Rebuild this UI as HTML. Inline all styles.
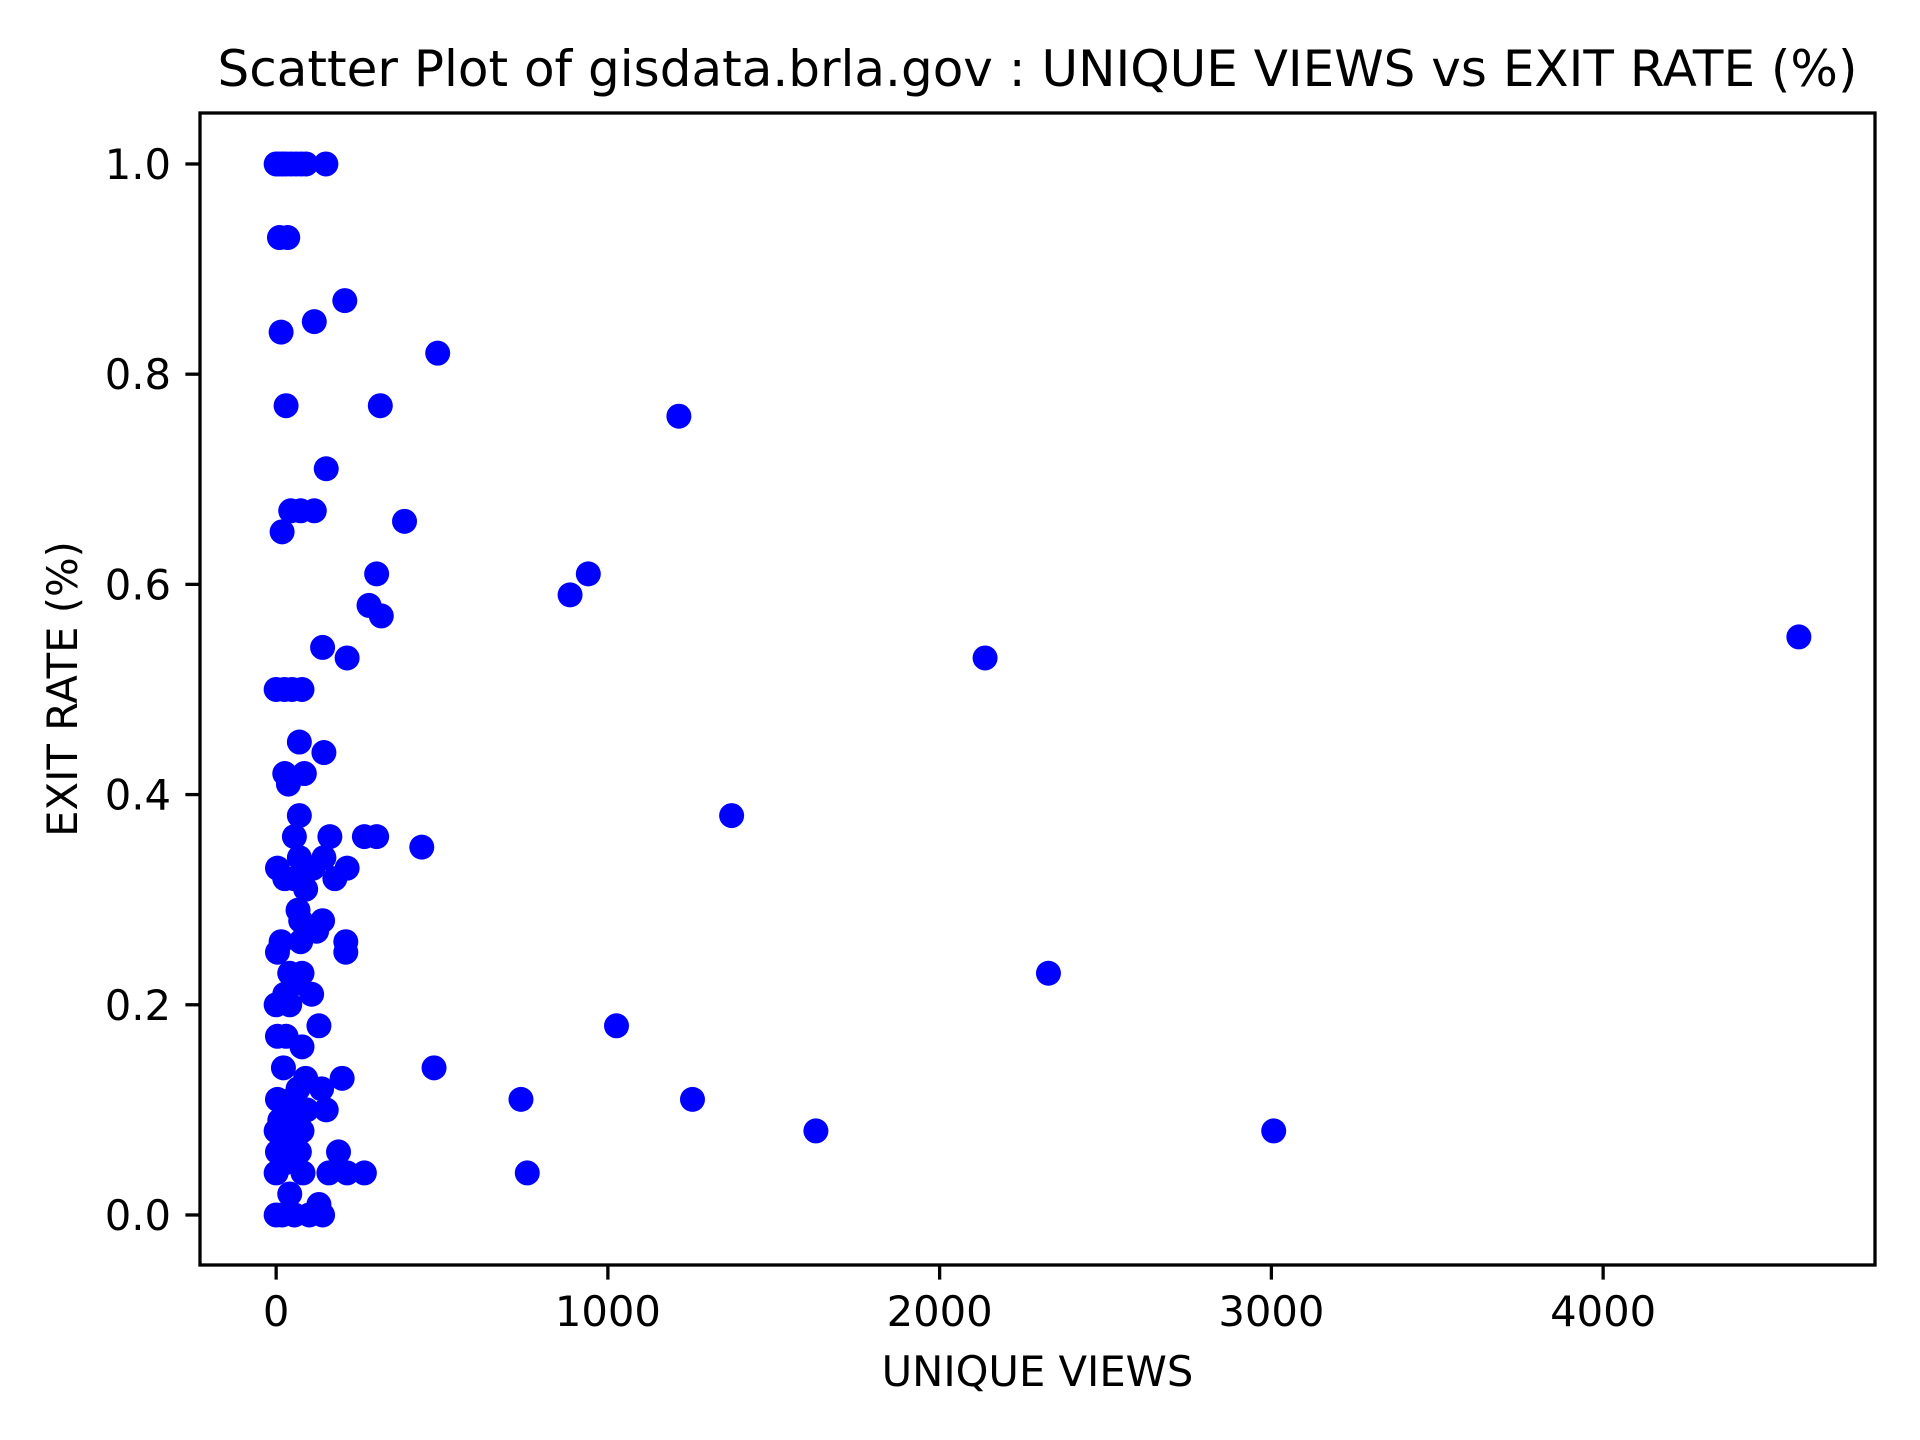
<!DOCTYPE html>
<html><head><meta charset="utf-8"><style>
html,body{margin:0;padding:0;background:#fff;}
svg{display:block;font-family:"DejaVu Sans","Liberation Sans",sans-serif;}
</style></head>
<body>
<svg id="chart" width="1920" height="1440" viewBox="0 0 1920 1440" xmlns="http://www.w3.org/2000/svg">
<rect x="0" y="0" width="1920" height="1440" fill="#fff"/>
<text x="1037.5" y="86" font-size="50" text-anchor="middle">Scatter Plot of gisdata.brla.gov : UNIQUE VIEWS vs EXIT RATE (%)</text>
<g id="points"></g>
<g id="axes"></g>
<text x="1037.5" y="1386" font-size="41.7" text-anchor="middle">UNIQUE VIEWS</text>
<text x="0" y="0" font-size="41.7" text-anchor="middle" transform="translate(77,689) rotate(-90)">EXIT RATE (%)</text>
</svg>
<script>
const xValues = [0,10,20,30,45,60,75,90,150, 10,35, 207, 115, 15, 487, 30,314, 1214, 151, 44,74,115, 387, 18, 303,941, 886, 280, 317, 4590, 140, 214,2137, 0,25,48,78, 70, 144, 26,85, 37, 70,1373, 55,162,266,303, 439, 70,144, 4,111,214, 26,55,177, 89, 66, 74,140, 122, 15,74,210, 4,210, 41,78,2328, 55, 107,26, 0,41, 129,1026, 4,30, 78, 22,476, 89,199, 66,137, 4,48,738,1255, 26,92,151, 11,55, 0,78,1627,3007, 37, 4,70,188, 30, 0,81,159,214,266,757, 41, 129, 0,18,55,100,140];
const yValues = [1,1,1,1,1,1,1,1,1, 0.93,0.93, 0.87, 0.85, 0.84, 0.82, 0.77,0.77, 0.76, 0.71, 0.67,0.67,0.67, 0.66, 0.65, 0.61,0.61, 0.59, 0.58, 0.57, 0.55, 0.54, 0.53,0.53, 0.5,0.5,0.5,0.5, 0.45, 0.44, 0.42,0.42, 0.41, 0.38,0.38, 0.36,0.36,0.36,0.36, 0.35, 0.34,0.34, 0.33,0.33,0.33, 0.32,0.32,0.32, 0.31, 0.29, 0.28,0.28, 0.27, 0.26,0.26,0.26, 0.25,0.25, 0.23,0.23,0.23, 0.22, 0.21,0.21, 0.2,0.2, 0.18,0.18, 0.17,0.17, 0.16, 0.14,0.14, 0.13,0.13, 0.12,0.12, 0.11,0.11,0.11,0.11, 0.1,0.1,0.1, 0.09,0.09, 0.08,0.08,0.08,0.08, 0.07, 0.06,0.06,0.06, 0.05, 0.04,0.04,0.04,0.04,0.04,0.04, 0.02, 0.01, 0,0,0,0,0];
const xTicks = [0,1000,2000,3000,4000];
const xTickLabels = ["0","1000","2000","3000","4000"];
const yTicks = [0,0.2,0.4,0.6,0.8,1.0];
const yTickLabels = ["0.0","0.2","0.4","0.6","0.8","1.0"];

const L=200,R=1875,T=113,B=1265;
const xmin=-229.5,xmax=4819.5,ymin=-0.0476,ymax=1.0485;
function sx(v){return L+(v-xmin)/(xmax-xmin)*(R-L);}
function sy(v){return B-(v-ymin)/(ymax-ymin)*(B-T);}
const NS="http://www.w3.org/2000/svg";
const pg=document.getElementById('points');
for(let i=0;i<xValues.length;i++){
  const c=document.createElementNS(NS,'circle');
  c.setAttribute('cx',sx(xValues[i]));c.setAttribute('cy',sy(yValues[i]));
  c.setAttribute('r',12.5);c.setAttribute('fill','#0000ff');
  
  
  pg.appendChild(c);
}
const ag=document.getElementById('axes');
const frame=document.createElementNS(NS,'rect');
frame.setAttribute('x',L);frame.setAttribute('y',T);frame.setAttribute('width',R-L);frame.setAttribute('height',B-T);
frame.setAttribute('fill','none');frame.setAttribute('stroke','#000');frame.setAttribute('stroke-width',3.3);


ag.appendChild(frame);
xTicks.forEach((v,i)=>{
  const x=sx(v);
  const ln=document.createElementNS(NS,'line');
  ln.setAttribute('x1',x);ln.setAttribute('x2',x);ln.setAttribute('y1',B);ln.setAttribute('y2',B+14.6);
  ln.setAttribute('stroke','#000');ln.setAttribute('stroke-width',3.3);
  
  
  ag.appendChild(ln);
  const t=document.createElementNS(NS,'text');
  t.setAttribute('x',x);t.setAttribute('y',1326);t.setAttribute('font-size',41.7);t.setAttribute('text-anchor','middle');
  t.textContent=xTickLabels[i];
  
  
  ag.appendChild(t);
});
yTicks.forEach((v,i)=>{
  const y=sy(v);
  const ln=document.createElementNS(NS,'line');
  ln.setAttribute('x1',L-14.6);ln.setAttribute('x2',L);ln.setAttribute('y1',y);ln.setAttribute('y2',y);
  ln.setAttribute('stroke','#000');ln.setAttribute('stroke-width',3.3);
  
  
  ag.appendChild(ln);
  const t=document.createElementNS(NS,'text');
  t.setAttribute('x',L-29);t.setAttribute('y',y+15);t.setAttribute('font-size',41.7);t.setAttribute('text-anchor','end');
  t.textContent=yTickLabels[i];
  
  
  ag.appendChild(t);
});
</script>
</body></html>
